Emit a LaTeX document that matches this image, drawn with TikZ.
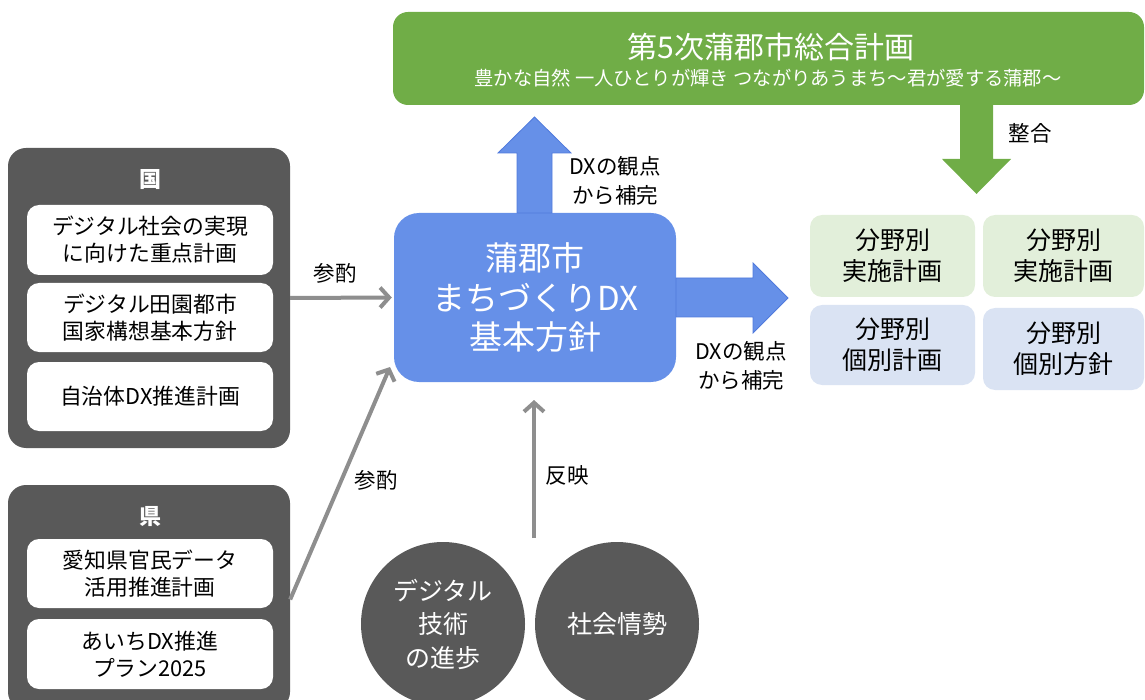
\documentclass[tikz,border=0pt]{standalone}
\usepackage{fontspec}
\setmainfont{Noto Sans CJK JP}
\usetikzlibrary{arrows.meta}
\definecolor{dg}{RGB}{89,89,89}
\definecolor{mblue}{RGB}{102,144,232}
\definecolor{mblueb}{RGB}{80,122,220}
\definecolor{mgreen}{RGB}{112,173,71}
\definecolor{lgreen}{RGB}{226,239,218}
\definecolor{lblue}{RGB}{218,227,243}
\definecolor{agray}{RGB}{142,142,142}
\begin{document}
\begin{tikzpicture}[x=1pt,y=-1pt,
  outerbox/.style={fill=dg,draw=none,rounded corners=18pt,inner sep=0pt},
  innerbox/.style={fill=white,draw=none,rounded corners=12pt,minimum width=246pt,align=center,inner sep=0pt,font=\fontsize{21.8}{27}\selectfont},
  headlbl/.style={text=white,font=\fontsize{22}{24}\selectfont\bfseries},
  lbl/.style={text=black,align=center,font=\fontsize{21.5}{29}\selectfont},
  refarrow/.style={draw=agray,line width=4pt,-{Straight Barb[length=9pt,width=20pt,line width=4pt]}},
  fieldbox/.style={draw=none,rounded corners=12pt,align=center,inner sep=0pt,font=\fontsize{25}{31}\selectfont},
  circ/.style={circle,fill=dg,draw=none,minimum size=164pt,inner sep=0pt,text=white,align=center,font=\fontsize{25}{33.5}\selectfont}
]
\useasboundingbox (0,0) rectangle (1145,700);

% top green plan
\node[fill=mgreen,rounded corners=15pt,minimum width=751pt,minimum height=93pt,inner sep=0pt] (plan) at (768.5,58.5) {};
\node[text=white,font=\fontsize{30}{32}\selectfont] (plantitle) at (771,47) {第5次蒲郡市総合計画};
\node[text=white,font=\fontsize{19.3}{22}\selectfont] (plansub) at (768,78) {豊かな自然 一人ひとりが輝き つながりあうまち～君が愛する蒲郡～};

% 国 box
\node[outerbox,minimum width=282pt,minimum height=300pt] (kuni) at (149,298) {};
\node[headlbl] (kunilbl) at (150,180) {国};
\node[innerbox,minimum height=70pt] (k1) at (150,240) {デジタル社会の実現\\に向けた重点計画};
\node[innerbox,minimum height=69pt] (k2) at (150,317.5) {デジタル田園都市\\国家構想基本方針};
\node[innerbox,minimum height=69pt] (k3) at (150,396.5) {自治体DX推進計画};

% 県 box
\node[outerbox,minimum width=282pt,minimum height=225pt] (ken) at (149,597.5) {};
\node[headlbl] (kenlbl) at (150,517) {県};
\node[innerbox,minimum height=69pt] (p1) at (150,573.5) {愛知県官民データ\\活用推進計画};
\node[innerbox,minimum height=70pt] (p2) at (150,654) {あいちDX推進\\プラン2025};

% main box
\node[fill=mblue,draw=none,rounded corners=25pt,minimum width=282pt,minimum height=169pt,inner sep=0pt,text=white,align=center,font=\fontsize{33}{39.5}\selectfont] (main) at (535,297.5) {蒲郡市\\まちづくりDX\\基本方針};

% block arrows
\draw[fill=mblue,draw=mblueb,line width=0.8pt] (517,213) -- (517,153) -- (498,153) -- (534.5,117) -- (571,153) -- (552,153) -- (552,213) -- cycle;
\draw[fill=mblue,draw=mblueb,line width=0.8pt] (676,278) -- (753,278) -- (753,263) -- (788,298) -- (753,333) -- (753,317) -- (676,317) -- cycle;
\fill[mgreen] (960,105) -- (960,159) -- (942,159) -- (976.5,194) -- (1011,159) -- (993,159) -- (993,105) -- cycle;

\node[lbl] (upl) at (615,180.5) {DXの観点\\から補完};
\node[lbl] (rtl) at (741,366) {DXの観点\\から補完};
\node[lbl] (seigo) at (1030,133) {整合};

% field boxes
\node[fieldbox,fill=lgreen,minimum width=165pt,minimum height=82pt] (f1) at (892.5,256) {分野別\\実施計画};
\node[fieldbox,fill=lgreen,minimum width=161pt,minimum height=82pt] (f2) at (1063.5,256) {分野別\\実施計画};
\node[fieldbox,fill=lblue,minimum width=165pt,minimum height=80pt] (f3) at (892.5,345) {分野別\\個別計画};
\node[fieldbox,fill=lblue,minimum width=161pt,minimum height=82pt] (f4) at (1063.5,349) {分野別\\個別方針};

% circles
\node[circ] (c1) at (443,624) {デジタル\\技術\\の進歩};
\node[circ] (c2) at (617,624) {社会情勢};

% connectors
\coordinate (kenin) at (390,367);
\coordinate (hanfrom) at (534,538);
\coordinate (hanto) at (534,400);
\draw[refarrow] (kuni.east) -- ([xshift=-2pt]main.west);
\draw[refarrow] ([yshift=-2pt]ken.east) -- (kenin);
\draw[refarrow] (hanfrom) -- (hanto);
\node[lbl] (san1) at (335,273) {参酌};
\node[lbl] (san2) at (376,480) {参酌};
\node[lbl] (han) at (567,475) {反映};
\end{tikzpicture}
\end{document}
